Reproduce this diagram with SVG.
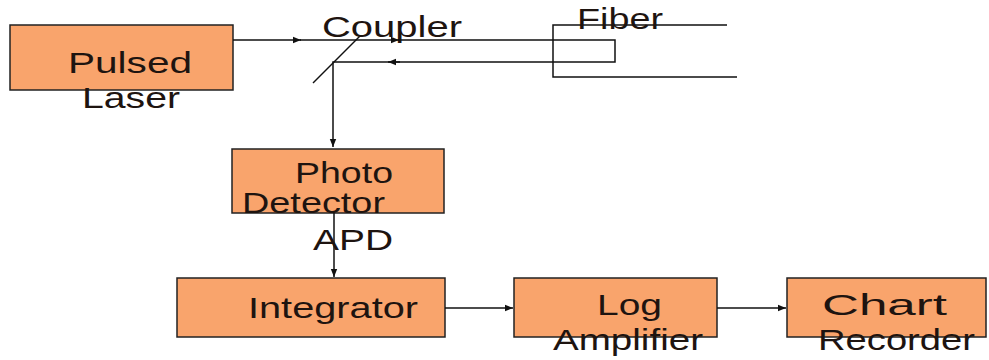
<svg xmlns="http://www.w3.org/2000/svg" width="989" height="360" viewBox="0 0 989 360">
<style>
.box{fill:#F9A46C;stroke:#222;stroke-width:1.5}
.t{font-family:"Liberation Sans",Arial,sans-serif;font-size:29px;fill:#1e1410}
.ln{fill:none;stroke:#111;stroke-width:1.5}
</style>
<defs>
<marker id="ah" viewBox="0 0 10 10" refX="10" refY="5" markerWidth="8" markerHeight="8" markerUnits="userSpaceOnUse" orient="auto">
<path d="M0,1 L10,5 L0,9 Z" fill="#111"/>
</marker>
</defs>
<rect width="989" height="360" fill="#fff"/>
<g id="pulsed-laser">
<rect class="box" x="10" y="25" width="223" height="65"/>
<text class="t" x="68" y="73" textLength="124" lengthAdjust="spacingAndGlyphs">Pulsed</text>
<text class="t" x="82" y="108" textLength="98" lengthAdjust="spacingAndGlyphs">Laser</text>
</g>
<g id="coupler">
<line class="ln" x1="313" y1="83" x2="360" y2="36"/>
<text class="t" x="322" y="37" textLength="140" lengthAdjust="spacingAndGlyphs">Coupler</text>
</g>
<g id="fiber">
<path class="ln" d="M727,25 H553 V77 H737"/>
<text class="t" x="577" y="29" textLength="86" lengthAdjust="spacingAndGlyphs">Fiber</text>
</g>
<g id="photo-detector">
<rect class="box" x="232" y="149" width="212" height="64"/>
<text class="t" x="295" y="183" textLength="98" lengthAdjust="spacingAndGlyphs">Photo</text>
<text class="t" x="242" y="213" textLength="143" lengthAdjust="spacingAndGlyphs">Detector</text>
</g>
<g id="integrator">
<rect class="box" x="177" y="278" width="268" height="59"/>
<text class="t" x="248" y="318" textLength="170" lengthAdjust="spacingAndGlyphs">Integrator</text>
</g>
<g id="log-amplifier">
<rect class="box" x="514" y="278" width="203" height="59"/>
<text class="t" x="597" y="315" textLength="65" lengthAdjust="spacingAndGlyphs">Log</text>
<text class="t" x="553" y="350" textLength="150" lengthAdjust="spacingAndGlyphs">Amplifier</text>
</g>
<g id="chart-recorder">
<rect class="box" x="787" y="278" width="199" height="59"/>
<text class="t" x="822" y="315" textLength="125" lengthAdjust="spacingAndGlyphs">Chart</text>
<text class="t" x="818" y="350" textLength="157" lengthAdjust="spacingAndGlyphs">Recorder</text>
</g>
<g id="connectors">
<line class="ln" x1="233" y1="40" x2="301" y2="40" marker-end="url(#ah)"/>
<line class="ln" x1="300" y1="40" x2="399" y2="40" marker-end="url(#ah)"/>
<path class="ln" d="M398,40 H615 V62 H390"/>
<line class="ln" x1="400" y1="62" x2="388" y2="62" marker-end="url(#ah)"/>
<path class="ln" d="M390,62 H333 V147" marker-end="url(#ah)"/>
<line class="ln" x1="334" y1="213" x2="334" y2="277" marker-end="url(#ah)"/>
<text class="t" x="313" y="250" textLength="80" lengthAdjust="spacingAndGlyphs">APD</text>
<line class="ln" x1="445" y1="308" x2="513" y2="308" marker-end="url(#ah)"/>
<line class="ln" x1="717" y1="308" x2="786" y2="308" marker-end="url(#ah)"/>
</g>
</svg>
